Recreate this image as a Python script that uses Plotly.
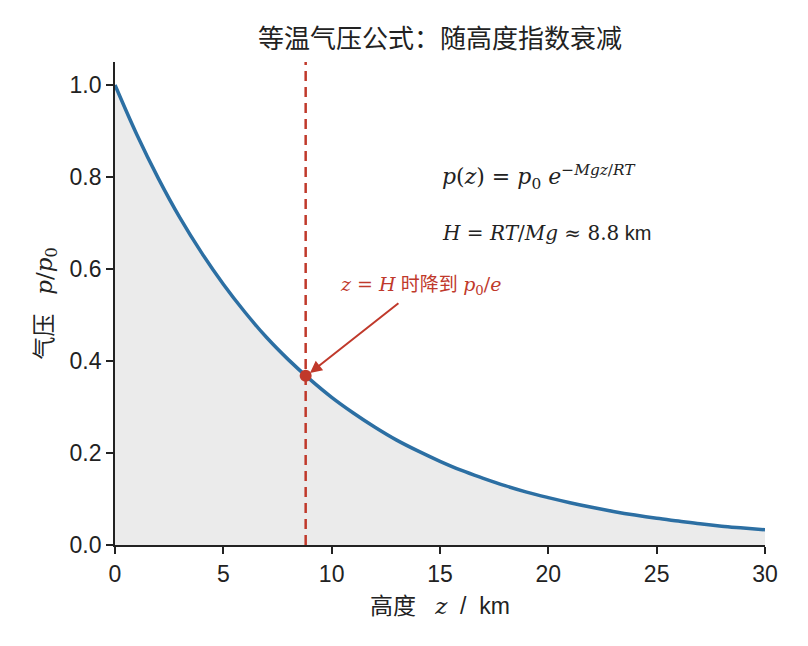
import plotly.graph_objects as go

# Heights (km) and relative pressure p/p0
z_km = [0, 1, 2, 3, 4, 5, 6, 7, 8, 9, 10, 11, 12, 13, 14, 15, 16, 17, 18, 19, 20,
        21, 22, 23, 24, 25, 26, 27, 28, 29, 30]
p_rel = [1.000, 0.893, 0.797, 0.711, 0.635, 0.567, 0.506, 0.451, 0.403, 0.360, 0.321,
         0.287, 0.256, 0.228, 0.204, 0.182, 0.162, 0.145, 0.129, 0.115, 0.103,
         0.092, 0.082, 0.073, 0.065, 0.058, 0.052, 0.046, 0.041, 0.037, 0.033]
H_km = 8.8
p_at_H = 0.368

x_ticks = [0, 5, 10, 15, 20, 25, 30]
y_ticks = [0.0, 0.2, 0.4, 0.6, 0.8, 1.0]
y_tick_labels = ["0.0", "0.2", "0.4", "0.6", "0.8", "1.0"]

BLUE = "#2c6fa3"
RED = "#c0392b"
SANS = "Liberation Sans, Noto Sans CJK SC, sans-serif"
SERIF = "DejaVu Serif, Liberation Serif, serif"

def m(s):
    return f"<span style='font-family:{SERIF}'><i>{s}</i></span>"

def sans(s):
    return f"<span style='font-family:{SANS}'>{s}</span>"

fig = go.Figure()
fig.add_trace(go.Scatter(x=z_km, y=p_rel, mode="lines", fill="tozeroy",
                         fillcolor="#ebebeb", line=dict(color=BLUE, width=3.5, shape="spline"),
                         showlegend=False, hoverinfo="skip"))
fig.add_trace(go.Scatter(x=[H_km, H_km], y=[0, 1.05], mode="lines",
                         line=dict(color=RED, width=2.5, dash="10px,6px"),
                         showlegend=False, hoverinfo="skip"))
fig.add_trace(go.Scatter(x=[H_km], y=[p_at_H], mode="markers",
                         marker=dict(color=RED, size=12),
                         showlegend=False, hoverinfo="skip"))

fig.add_annotation(x=15.0, y=0.80, xref="x", yref="y", xanchor="left", yanchor="middle",
                   showarrow=False,
                   text=m("p</i>(<i>z</i>) = <i>p</i><sub>0</sub> <i>e</i><sup>−<i>Mgz</i>/<i>RT</i></sup><i>"),
                   font=dict(size=22, color="#222222", family=SERIF))
fig.add_annotation(x=15.0, y=0.678, xref="x", yref="y", xanchor="left", yanchor="middle",
                   showarrow=False,
                   text=m("H</i> = <i>RT</i>/<i>Mg</i> ≈ 8.8<i>") + sans(" km"),
                   font=dict(size=20, color="#222222", family=SERIF))
fig.add_annotation(x=10.3, y=0.565, xref="x", yref="y", xanchor="left", yanchor="middle",
                   showarrow=False,
                   text=m("z</i> = <i>H") + sans(" 时降到 ") + m("p</i><sub>0</sub>/<i>e"),
                   font=dict(size=19, color=RED, family=SERIF))
fig.add_annotation(x=9.0, y=0.374, xref="x", yref="y", ax=13.15, ay=0.528,
                   axref="x", ayref="y", text="", showarrow=True,
                   arrowhead=2, arrowsize=1.2, arrowwidth=2, arrowcolor=RED)

fig.update_layout(
    width=808, height=646,
    margin=dict(l=115, r=43, t=62, b=101),
    plot_bgcolor="white", paper_bgcolor="white",
    font=dict(family=SANS, size=23, color="#222222"),
    title=dict(text="等温气压公式：随高度指数衰减", x=0.5, xanchor="center",
               xref="paper", y=0.94, yanchor="middle",
               font=dict(size=26, family=SANS, color="#222222")),
    xaxis=dict(range=[0, 30], tickvals=x_ticks, showgrid=False, zeroline=False,
               showline=True, linecolor="#222222", linewidth=1.8,
               ticks="outside", ticklen=7, tickwidth=1.5, tickcolor="#222222",
               tickfont=dict(size=23),
               title=dict(text="高度&nbsp;&nbsp;&nbsp;" + m("z") + "&nbsp;&nbsp;/&nbsp;&nbsp;km", standoff=12,
                          font=dict(size=23, family=SANS))),
    yaxis=dict(range=[0, 1.05], tickvals=y_ticks, ticktext=y_tick_labels,
               showgrid=False, zeroline=False,
               showline=True, linecolor="#222222", linewidth=1.8,
               ticks="outside", ticklen=7, tickwidth=1.5, tickcolor="#222222",
               tickfont=dict(size=23),
               title=dict(text="气压&nbsp;&nbsp;&nbsp;" + m("p</i>/<i>p</i><sub>0</sub><i>"), standoff=10,
                          font=dict(size=23, family=SANS))),
)

fig.write_html("out.html")
